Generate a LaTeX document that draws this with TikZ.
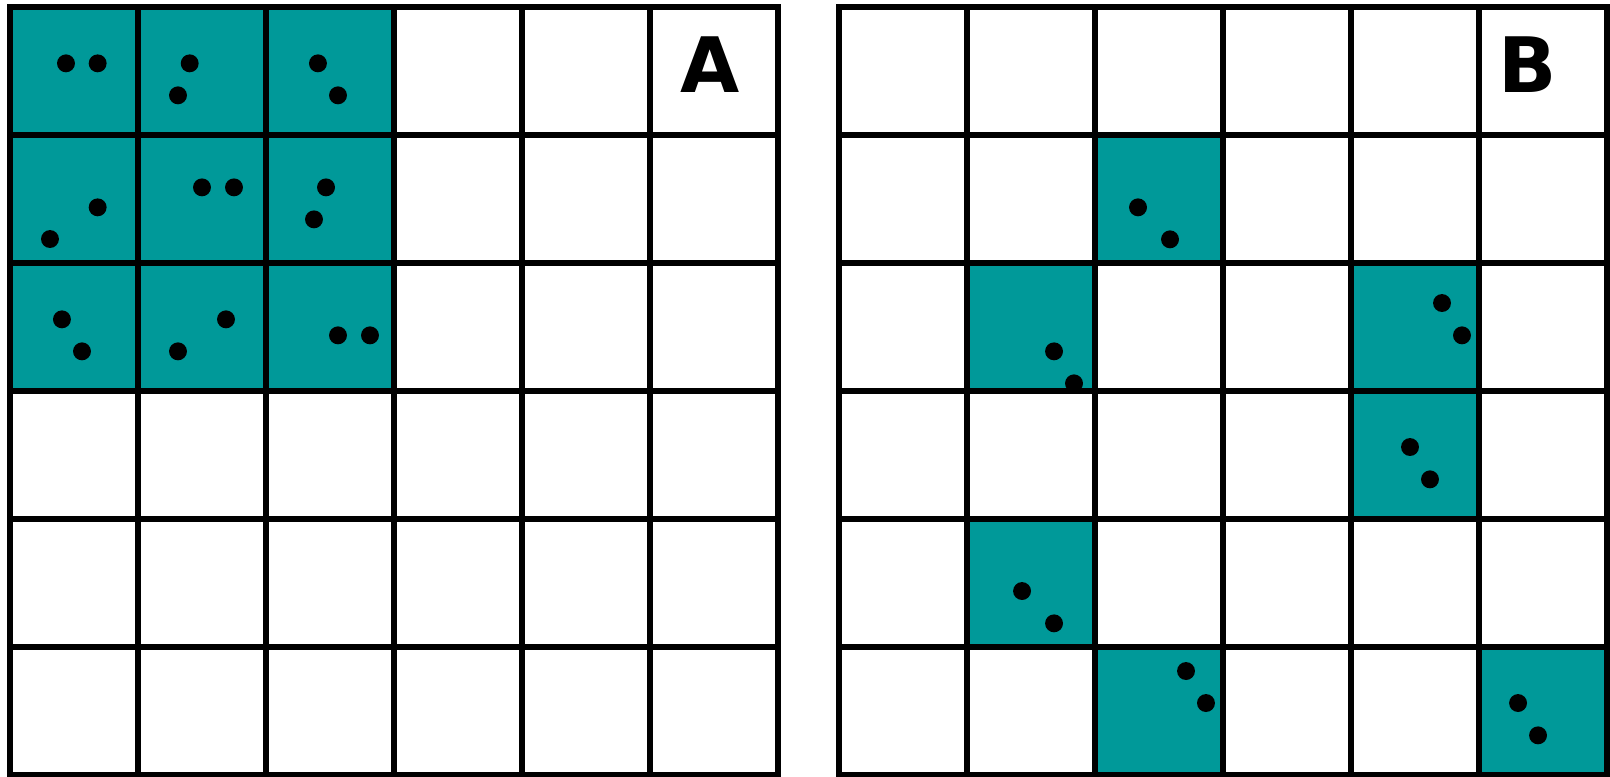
\documentclass[tikz,border=0pt]{standalone}
\usepackage{fontspec}
\setmainfont{DejaVu Sans}
\definecolor{tealcell}{RGB}{0,153,153}
\tikzset{
  cellline/.style={line width=1.3pt,line cap=rect},
  pebble/.style={fill=black},
  panellabel/.style={inner sep=0pt,font=\fontsize{17}{17}\selectfont\bfseries}
}

\begin{document}
\begin{tikzpicture}[x=1cm,y=1cm]
\useasboundingbox (-0.078,0.055) rectangle (12.5,-6.008);
% panel A: the 3x3 block
\fill[tealcell] (0,0) rectangle (3,-3);
\draw[cellline] (0,-6) grid (6,0);
\fill[pebble] (0.4375,-0.44) circle(0.07);
\fill[pebble] (0.685,-0.44) circle(0.07);
\fill[pebble] (1.404,-0.44) circle(0.07);
\fill[pebble] (1.3125,-0.69) circle(0.07);
\fill[pebble] (2.406,-0.44) circle(0.07);
\fill[pebble] (2.5625,-0.69) circle(0.07);
\fill[pebble] (0.685,-1.565) circle(0.07);
\fill[pebble] (0.3125,-1.8125) circle(0.07);
\fill[pebble] (1.5,-1.409) circle(0.07);
\fill[pebble] (1.75,-1.409) circle(0.07);
\fill[pebble] (2.469,-1.409) circle(0.07);
\fill[pebble] (2.375,-1.659) circle(0.07);
\fill[pebble] (0.406,-2.44) circle(0.07);
\fill[pebble] (0.5625,-2.69) circle(0.07);
\fill[pebble] (1.6875,-2.44) circle(0.07);
\fill[pebble] (1.3125,-2.69) circle(0.07);
\fill[pebble] (2.5625,-2.565) circle(0.07);
\fill[pebble] (2.8125,-2.565) circle(0.07);
\node[panellabel] (labA) at (5.473,-0.449) {A};
% panel B: scattered cells
\begin{scope}[xshift=6.4766cm]
  \fill[tealcell] (2,-1) rectangle (3,-2);
  \fill[tealcell] (1,-2) rectangle (2,-3);
  \fill[tealcell] (4,-2) rectangle (5,-3);
  \fill[tealcell] (4,-3) rectangle (5,-4);
  \fill[tealcell] (1,-4) rectangle (2,-5);
  \fill[tealcell] (2,-5) rectangle (3,-6);
  \fill[tealcell] (5,-5) rectangle (6,-6);
  \draw[cellline] (0,-6) grid (6,0);
  \fill[pebble] (2.336,-1.565) circle(0.07);
  \fill[pebble] (2.586,-1.815) circle(0.07);
  \fill[pebble] (1.68,-2.69) circle(0.07);
  \fill[pebble] (1.836,-2.94) circle(0.07);
  \fill[pebble] (4.711,-2.3125) circle(0.07);
  \fill[pebble] (4.867,-2.565) circle(0.07);
  \fill[pebble] (4.461,-3.4375) circle(0.07);
  \fill[pebble] (4.617,-3.69) circle(0.07);
  \fill[pebble] (1.43,-4.5625) circle(0.07);
  \fill[pebble] (1.68,-4.815) circle(0.07);
  \fill[pebble] (2.711,-5.1875) circle(0.07);
  \fill[pebble] (2.867,-5.4375) circle(0.07);
  \fill[pebble] (5.305,-5.4375) circle(0.07);
  \fill[pebble] (5.461,-5.69) circle(0.07);
  \node[panellabel] (labB) at (5.382,-0.449) {B};
\end{scope}
\end{tikzpicture}
\end{document}
